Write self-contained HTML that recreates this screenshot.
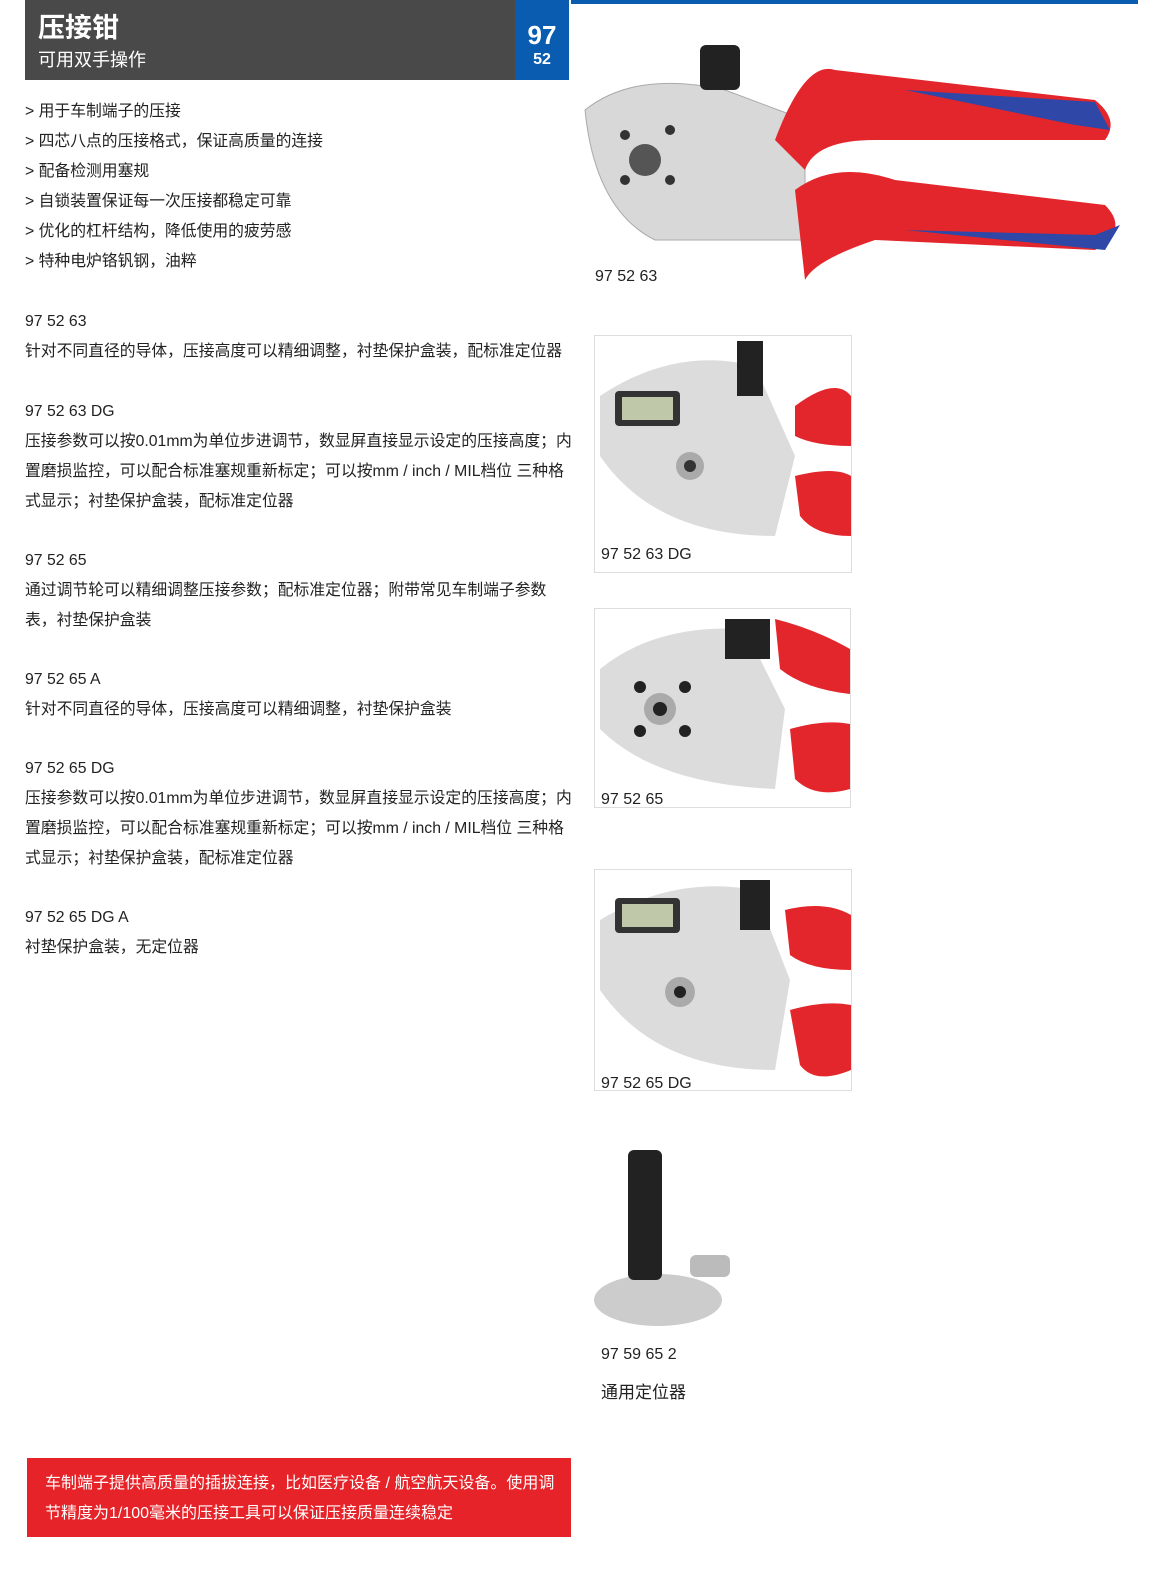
<!DOCTYPE html>
<html><head><meta charset="utf-8"><style>
body{margin:0;width:1172px;height:1574px;background:#fff;position:relative;font-family:"Liberation Sans","Noto Sans CJK SC",sans-serif;color:#222;overflow:hidden}
.a{position:absolute}
.t{font-size:15.8px;line-height:30px;white-space:nowrap}
.frame{position:absolute;border:1px solid #ddd;background:#fff;overflow:hidden}
.cap{position:absolute;font-size:16px;color:#222}
</style></head><body>
<div class="a" style="left:25px;top:0;width:490px;height:80px;background:#4a4949"></div>
<div class="a" style="left:515px;top:0;width:54px;height:80px;background:#0a5cb0"></div>
<div class="a" style="left:38px;top:6px;color:#fff;font-size:27px;font-weight:bold">压接钳</div>
<div class="a" style="left:38px;top:46px;color:#fff;font-size:18px">可用双手操作</div>
<div class="a" style="left:515px;top:20px;width:54px;text-align:center;color:#fff;font-size:26px;font-weight:bold;line-height:30px">97</div>
<div class="a" style="left:515px;top:51px;width:54px;text-align:center;color:#fff;font-size:16px;font-weight:bold">52</div>
<div class="a" style="left:571px;top:0;width:567px;height:4px;background:#0a5cb0"></div>

<div class="a t" style="left:25px;top:97px">
&gt; 用于车制端子的压接<br>&gt; 四芯八点的压接格式，保证高质量的连接<br>&gt; 配备检测用塞规<br>&gt; 自锁装置保证每一次压接都稳定可靠<br>&gt; 优化的杠杆结构，降低使用的疲劳感<br>&gt; 特种电炉铬钒钢，油粹</div>
<div class="a t" style="left:25px;top:307px">97 52 63<br>针对不同直径的导体，压接高度可以精细调整，衬垫保护盒装，配标准定位器</div>
<div class="a t" style="left:25px;top:397px">97 52 63 DG<br>压接参数可以按0.01mm为单位步进调节，数显屏直接显示设定的压接高度；内<br>置磨损监控，可以配合标准塞规重新标定；可以按mm / inch / MIL档位 三种格<br>式显示；衬垫保护盒装，配标准定位器</div>
<div class="a t" style="left:25px;top:546px">97 52 65<br>通过调节轮可以精细调整压接参数；配标准定位器；附带常见车制端子参数<br>表，衬垫保护盒装</div>
<div class="a t" style="left:25px;top:665px">97 52 65 A<br>针对不同直径的导体，压接高度可以精细调整，衬垫保护盒装</div>
<div class="a t" style="left:25px;top:754px">97 52 65 DG<br>压接参数可以按0.01mm为单位步进调节，数显屏直接显示设定的压接高度；内<br>置磨损监控，可以配合标准塞规重新标定；可以按mm / inch / MIL档位 三种格<br>式显示；衬垫保护盒装，配标准定位器</div>
<div class="a t" style="left:25px;top:903px">97 52 65 DG  A<br>衬垫保护盒装，无定位器</div>

<svg class="a" style="left:575px;top:30px" width="560" height="260">
<path d="M10 80 Q60 40 150 60 L230 90 L230 210 L80 210 Q20 180 10 80Z" fill="#d8d8d8" stroke="#aaa"/>
<rect x="125" y="15" width="40" height="45" rx="6" fill="#222"/>
<path d="M200 110 Q230 30 260 40 L520 70 Q545 90 530 110 L300 110 Q240 110 230 140Z" fill="#e3262b"/>
<path d="M220 160 Q260 130 320 150 L530 175 Q555 200 520 220 L300 210 Q240 230 230 250Z" fill="#e3262b"/>
<path d="M330 60 L520 72 L535 100 L500 95Z" fill="#2f47a6"/>
<path d="M330 200 L520 205 L545 195 L530 220Z" fill="#2f47a6"/>
<circle cx="70" cy="130" r="16" fill="#555"/><circle cx="50" cy="105" r="5" fill="#333"/><circle cx="95" cy="100" r="5" fill="#333"/><circle cx="50" cy="150" r="5" fill="#333"/><circle cx="95" cy="150" r="5" fill="#333"/>
</svg>
<div class="cap" style="left:595px;top:268px">97 52 63</div>

<div class="frame" style="left:594px;top:335px;width:256px;height:236px">
<svg width="256" height="236"><path d="M5 60 Q80 10 160 30 L200 120 L180 200 Q60 200 5 120Z" fill="#dcdcdc"/><rect x="20" y="55" width="65" height="35" rx="4" fill="#333"/><rect x="27" y="61" width="51" height="23" fill="#bfc8a8"/><rect x="142" y="5" width="26" height="55" fill="#222"/><path d="M200 70 Q240 40 256 60 L256 110 Q220 110 200 100Z" fill="#e3262b"/><path d="M200 140 Q240 130 256 140 L256 200 Q220 200 205 180Z" fill="#e3262b"/><circle cx="95" cy="130" r="14" fill="#aaa"/><circle cx="95" cy="130" r="6" fill="#333"/></svg>
<div class="cap" style="left:6px;top:210px">97 52 63 DG</div></div>

<div class="frame" style="left:594px;top:608px;width:255px;height:198px">
<svg width="255" height="198"><path d="M5 60 Q60 15 150 20 L190 100 L180 180 Q60 175 5 120Z" fill="#dcdcdc"/><rect x="130" y="10" width="45" height="40" fill="#222"/><path d="M180 10 Q220 20 255 40 L255 85 Q210 80 185 60Z" fill="#e3262b"/><path d="M195 120 Q230 110 255 115 L255 180 Q220 190 200 170Z" fill="#e3262b"/><circle cx="65" cy="100" r="16" fill="#aaa"/><circle cx="65" cy="100" r="7" fill="#222"/><circle cx="45" cy="78" r="6" fill="#222"/><circle cx="90" cy="78" r="6" fill="#222"/><circle cx="45" cy="122" r="6" fill="#222"/><circle cx="90" cy="122" r="6" fill="#222"/></svg>
<div class="cap" style="left:6px;top:182px">97 52 65</div></div>

<div class="frame" style="left:594px;top:869px;width:256px;height:220px">
<svg width="256" height="220"><path d="M5 50 Q80 5 160 20 L195 110 L180 200 Q60 200 5 120Z" fill="#dcdcdc"/><rect x="20" y="28" width="65" height="35" rx="4" fill="#333"/><rect x="27" y="34" width="51" height="23" fill="#bfc8a8"/><rect x="145" y="10" width="30" height="50" fill="#222"/><path d="M190 40 Q230 30 256 45 L256 100 Q215 100 195 85Z" fill="#e3262b"/><path d="M195 140 Q230 130 256 135 L256 200 Q220 215 205 195Z" fill="#e3262b"/><circle cx="85" cy="122" r="15" fill="#aaa"/><circle cx="85" cy="122" r="6" fill="#222"/></svg>
<div class="cap" style="left:6px;top:205px">97 52 65 DG</div></div>

<svg class="a" style="left:590px;top:1145px" width="150" height="190">
<ellipse cx="68" cy="155" rx="64" ry="26" fill="#ccc"/><rect x="38" y="5" width="34" height="130" rx="6" fill="#222"/><rect x="100" y="110" width="40" height="22" rx="6" fill="#bbb"/></svg>
<div class="cap" style="left:601px;top:1346px">97 59 65 2</div>
<div class="cap" style="left:601px;top:1378px;font-size:17px">通用定位器</div>

<div class="a" style="left:27px;top:1458px;width:544px;height:79px;background:#e52329"></div>
<div class="a" style="left:45px;top:1469px;color:#fff;font-size:16px;line-height:30px;white-space:nowrap">车制端子提供高质量的插拔连接，比如医疗设备 / 航空航天设备。使用调<br>节精度为1/100毫米的压接工具可以保证压接质量连续稳定</div>
</body></html>
